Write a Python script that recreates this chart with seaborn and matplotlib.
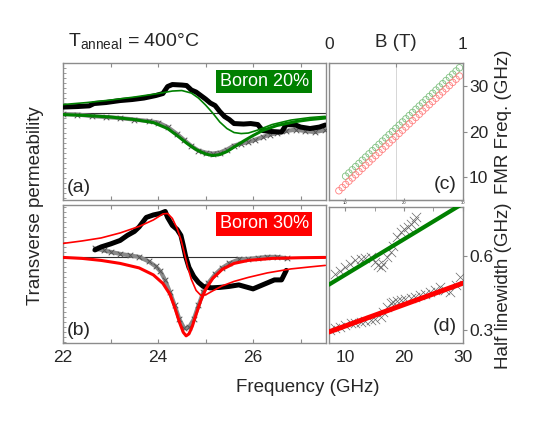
import matplotlib
matplotlib.use('Agg')
import matplotlib.pyplot as plt
import seaborn as sns

sns.set_style('white')
plt.rcParams['font.family'] = ['Liberation Sans', 'DejaVu Sans']
plt.rcParams['mathtext.fontset'] = 'custom'
plt.rcParams['mathtext.rm'] = 'Liberation Sans'

GREEN = '#008000'
RED = '#ff0000'
GREY = '#8a8a8a'
EDGE = '#8c8c8c'

# ---- panel (a): Boron 20 % permeability spectra (arb. units) ----
a_real_f = [22.00, 22.30, 22.55, 22.65, 22.90, 23.20, 23.45, 23.70, 23.95, 24.10, 24.20, 24.30,
            24.50, 24.60, 24.70, 24.80, 24.90, 25.00, 25.10, 25.20, 25.30, 25.40, 25.50, 25.60,
            25.80, 25.95, 26.10, 26.20, 26.40, 26.60, 26.70, 26.90, 27.00, 27.20, 27.40, 27.52]
a_real = [0.60, 0.65, 0.72, 0.95, 1.05, 1.25, 1.35, 1.50, 1.75, 1.95, 2.65, 2.85,
          2.80, 2.75, 2.30, 2.10, 1.75, 1.40, 1.00, 0.75, 0.15, -0.35, -0.65, -1.05,
          -1.10, -1.05, -1.15, -1.75, -1.85, -1.90, -1.15, -1.20, -1.40, -1.55, -1.40, -1.20]
a_imag_f = [22.0, 22.3, 22.6, 22.9, 23.2, 23.5, 23.8, 24.0, 24.2, 24.4, 24.55, 24.7, 24.85, 25.0,
            25.15, 25.3, 25.45, 25.6, 25.75, 25.9, 26.05, 26.2, 26.35, 26.5, 26.7, 26.9, 27.1,
            27.3, 27.52]
a_imag = [-0.10, -0.15, -0.30, -0.40, -0.50, -0.65, -0.80, -0.95, -1.40, -2.10, -2.70, -3.30,
          -3.75, -3.95, -4.05, -3.95, -3.65, -3.25, -3.05, -2.90, -2.65, -2.40, -2.15, -2.00,
          -1.80, -1.65, -1.80, -1.90, -1.70]
a_fit_re_f = [22.0, 22.5, 23.0, 23.5, 24.0, 24.3, 24.5, 24.7, 24.85, 25.0, 25.15, 25.3, 25.45,
              25.6, 25.75, 25.9, 26.1, 26.4, 26.8, 27.2, 27.52]
a_fit_re = [0.85, 1.05, 1.30, 1.60, 1.95, 2.20, 2.25, 2.00, 1.50, 0.80, 0.00, -0.90, -1.55,
            -1.95, -2.05, -2.00, -1.70, -1.15, -0.70, -0.45, -0.33]
a_fit_im_f = [22.0, 22.5, 23.0, 23.5, 23.9, 24.2, 24.4, 24.6, 24.8, 25.0, 25.15, 25.3, 25.45,
              25.6, 25.8, 26.0, 26.2, 26.5, 26.9, 27.2, 27.52]
a_fit_im = [-0.15, -0.25, -0.40, -0.65, -0.95, -1.55, -2.25, -3.00, -3.65, -4.10, -4.25, -4.15,
            -3.85, -3.40, -2.80, -2.25, -1.75, -1.25, -0.85, -0.65, -0.50]

# ---- panel (b): Boron 30 % ----
b_real_f = [22.67, 22.80, 23.00, 23.20, 23.35, 23.50, 23.60, 23.75, 23.90, 24.05, 24.15, 24.20,
            24.30, 24.40, 24.48, 24.53, 24.58, 24.65, 24.75, 24.85, 24.95, 25.10, 25.30, 25.50,
            25.70, 25.85, 26.00, 26.15, 26.30, 26.45, 26.60, 26.70]
b_real = [0.75, 1.05, 1.35, 1.70, 2.20, 2.60, 3.05, 4.00, 4.25, 4.40, 4.60, 4.00,
          3.20, 2.80, 2.20, 1.20, 0.10, -1.00, -1.90, -2.50, -2.90, -3.05, -3.00, -2.90,
          -2.75, -2.95, -3.15, -2.85, -2.55, -2.25, -2.25, -1.30]
b_imag_f = [22.67, 22.85, 23.00, 23.20, 23.40, 23.60, 23.80, 23.95, 24.05, 24.15, 24.25, 24.35,
            24.45, 24.55, 24.65, 24.75, 24.85, 24.95, 25.05, 25.20, 25.35, 25.50, 25.70, 25.90,
            26.10, 26.30, 26.50, 26.71]
b_imag = [0.90, 0.70, 0.55, 0.35, 0.20, 0.05, -0.40, -0.90, -1.40, -2.30, -3.50, -4.80,
          -6.20, -7.10, -7.00, -6.20, -4.80, -3.50, -2.60, -1.70, -1.05, -0.60, -0.20, -0.15,
          -0.05, 0.05, 0.05, -0.10]
b_fit_re_f = [22.0, 22.4, 22.8, 23.2, 23.6, 23.9, 24.1, 24.2, 24.3, 24.4, 24.48, 24.55, 24.62,
              24.7, 24.8, 24.9, 25.0, 25.15, 25.35, 25.6, 25.9, 26.3, 26.8, 27.2, 27.52]
b_fit_re = [1.40, 1.65, 1.95, 2.45, 3.10, 3.75, 4.35, 4.40, 3.90, 2.90, 1.80, 0.50, -0.90,
            -2.20, -3.30, -3.80, -3.75, -3.35, -2.85, -2.40, -2.00, -1.55, -1.15, -0.95, -0.80]
b_fit_im_f = [22.0, 22.4, 22.8, 23.2, 23.6, 23.9, 24.1, 24.25, 24.35, 24.45, 24.53, 24.59,
              24.65, 24.72, 24.8, 24.9, 25.0, 25.15, 25.35, 25.6, 25.9, 26.4, 27.0, 27.52]
b_fit_im = [0.00, -0.10, -0.30, -0.60, -1.05, -1.75, -2.60, -3.70, -5.00, -6.50, -7.50, -7.85,
            -7.65, -6.90, -5.70, -4.30, -3.20, -2.10, -1.20, -0.60, -0.30, -0.10, -0.03, 0.00]

# ---- panel (c): FMR frequency vs field ----
c_B_20 = [0.125, 0.150, 0.175, 0.200, 0.225, 0.250, 0.275, 0.300, 0.325, 0.350, 0.375, 0.400,
          0.425, 0.450, 0.475, 0.500, 0.525, 0.550, 0.575, 0.600, 0.625, 0.650, 0.675, 0.700,
          0.725, 0.750, 0.775, 0.800, 0.825, 0.850, 0.875, 0.900, 0.925, 0.950, 0.975]
c_f_20 = [10.2, 10.9, 11.6, 12.3, 13.0, 13.7, 14.4, 15.1, 15.8, 16.5, 17.2, 17.9, 18.6, 19.3,
          20.0, 20.7, 21.4, 22.1, 22.8, 23.5, 24.2, 24.9, 25.6, 26.3, 27.0, 27.7, 28.4, 29.1,
          29.8, 30.5, 31.2, 31.9, 32.6, 33.3, 34.0]
c_B_30 = [0.075, 0.100, 0.125, 0.150, 0.175, 0.200, 0.225, 0.250, 0.275, 0.300, 0.325, 0.350,
          0.375, 0.400, 0.425, 0.450, 0.475, 0.500, 0.525, 0.550, 0.575, 0.600, 0.625, 0.650,
          0.675, 0.700, 0.725, 0.750, 0.775, 0.800, 0.825, 0.850, 0.875, 0.900, 0.925, 0.950, 0.975]
c_f_30 = [7.0, 7.7, 8.4, 9.1, 9.8, 10.5, 11.2, 11.9, 12.6, 13.3, 14.0, 14.7, 15.4, 16.1, 16.8,
          17.5, 18.2, 18.9, 19.6, 20.3, 21.0, 21.7, 22.4, 23.1, 23.8, 24.5, 25.2, 25.9, 26.6,
          27.3, 28.0, 28.7, 29.4, 30.1, 30.8, 31.5, 32.2]

# ---- panel (d): half linewidth vs frequency ----
d_f_20 = [8.3, 9.15, 10.0, 10.85, 11.7, 12.6, 13.4, 14.3, 15.1, 15.6, 16.0, 16.5, 17.1, 17.7,
          18.2, 18.8, 19.4, 20.0, 20.6, 21.1, 21.7, 22.1]
d_w_20 = [0.526, 0.538, 0.556, 0.569, 0.583, 0.587, 0.592, 0.596, 0.578, 0.562, 0.556, 0.569,
          0.596, 0.616, 0.643, 0.677, 0.697, 0.710, 0.717, 0.730, 0.744, 0.757]
d_f_30 = [7.4, 8.3, 9.1, 10.0, 10.9, 11.7, 12.6, 13.4, 14.3, 15.1, 16.0, 16.5, 17.1, 17.7,
          18.2, 18.8, 19.4, 20.2, 21.1, 21.9, 22.8, 23.6, 24.5, 25.3, 26.2, 27.0, 27.9, 28.8, 29.6]
d_w_30 = [0.300, 0.307, 0.313, 0.320, 0.327, 0.330, 0.334, 0.336, 0.340, 0.344, 0.354, 0.374,
          0.394, 0.408, 0.414, 0.417, 0.421, 0.425, 0.428, 0.434, 0.441, 0.448, 0.455, 0.461,
          0.475, 0.461, 0.455, 0.481, 0.515]
d_fit_f = [7.2, 30.0]
d_fit_20 = [0.484, 0.813]
d_fit_30 = [0.292, 0.490]


def line(ax, x, y, color, lw, **kw):
    sns.lineplot(x=x, y=y, ax=ax, color=color, linewidth=lw, sort=False,
                 estimator=None, legend=False, **kw)


def crosses(ax, x, y, size, lw, color='#555555'):
    sns.scatterplot(x=x, y=y, ax=ax, marker='x', s=size, color=color, linewidth=lw,
                    legend=False, zorder=3)


def frame(ax):
    for s in ax.spines.values():
        s.set_color(EDGE)
        s.set_linewidth(1.0)


fig = plt.figure(figsize=(5.4, 4.23), dpi=100)
ax_a = fig.add_axes([0.117, 0.527, 0.487, 0.324])
ax_b = fig.add_axes([0.117, 0.189, 0.487, 0.326])
ax_c = fig.add_axes([0.609, 0.527, 0.248, 0.324])
ax_d = fig.add_axes([0.609, 0.189, 0.248, 0.322])

# left spectra panels
for ax, re_f, re, im_f, im, fre_f, fre, fim_f, fim, col, lab, tag, ylim in [
        (ax_a, a_real_f, a_real, a_imag_f, a_imag, a_fit_re_f, a_fit_re, a_fit_im_f, a_fit_im,
         GREEN, 'Boron 20%', '(a)', (-8.7, 5.0)),
        (ax_b, b_real_f, b_real, b_imag_f, b_imag, b_fit_re_f, b_fit_re, b_fit_im_f, b_fit_im,
         RED, 'Boron 30%', '(b)', (-8.57, 5.23))]:
    ax.axhline(0, color='#303030', lw=0.8, zorder=1)
    line(ax, im_f, im, GREY, 3.0, zorder=2)
    crosses(ax, im_f, im, 16, 0.7)
    line(ax, re_f, re, 'black', 3.6, zorder=4)
    line(ax, fre_f, fre, col, 1.2, zorder=5)
    line(ax, fim_f, fim, col, 2.2, zorder=6)
    ax.set_xlim(22, 27.54)
    ax.set_ylim(*ylim)
    ax.set_xticks([22, 23, 24, 25, 26, 27])
    ax.set_yticks([])
    ax.set_yticks([v * 0.5 for v in range(-17, 11)], minor=True)
    ax.tick_params(axis='x', direction='in', length=3, color=EDGE, top=True, bottom=True,
                   labelsize=12.5, pad=5)
    ax.tick_params(axis='y', which='minor', direction='in', length=2, color=EDGE, left=True)
    ax.set_xlabel('')
    ax.set_ylabel('')
    ax.text(0.764, 0.865, lab, transform=ax.transAxes, ha='center', va='center', color='white',
            fontsize=13, bbox=dict(boxstyle='square,pad=0.18', fc=col, ec='none'), zorder=7)
    ax.text(0.015, 0.03, tag, transform=ax.transAxes, ha='left', va='bottom', fontsize=14)
    frame(ax)

ax_a.set_xticklabels([])
ax_b.set_xticklabels(['22', '', '24', '', '26', ''])

# (c) FMR frequency vs B
ax_c.axvline(0.5, color='#d0d0d0', lw=0.6, zorder=0)
sns.scatterplot(x=c_B_20, y=c_f_20, ax=ax_c, marker='o', s=22, fc='none', ec='#7fc07f',
                linewidth=0.6, legend=False)
sns.scatterplot(x=c_B_30, y=c_f_30, ax=ax_c, marker='o', s=22, fc='none', ec='#ff8080',
                linewidth=0.6, legend=False)
ax_c.set_xlim(0, 1)
ax_c.set_ylim(4.95, 35.05)
ax_c.xaxis.tick_top()
ax_c.set_xticks([0, 0.5, 1])
ax_c.set_xticklabels(['0', '', '1'])
ax_c.yaxis.tick_right()
ax_c.set_yticks([10, 20, 30])
ax_c.tick_params(axis='x', direction='in', length=3, color=EDGE, labelsize=12.5, pad=8)
ax_c.tick_params(axis='y', direction='out', length=3, color=EDGE, labelsize=12.5, pad=1.5)
ax_c.set_xlabel('')
ax_c.set_ylabel('')
ax_c.text(0.5, 1.117, 'B (T)', transform=ax_c.transAxes, ha='center', va='baseline',
          fontsize=13.5)
sec = ax_c.secondary_xaxis('bottom', functions=(lambda b: 7.2 + 22.8 * b,
                                                lambda f: (f - 7.2) / 22.8))
sec.set_xticks([10, 20, 30])
sec.tick_params(labelsize=3, length=1.5, direction='in', color=EDGE, pad=0.5)
for s in sec.spines.values():
    s.set_color(EDGE)
ax_c.text(0.955, 0.05, '(c)', transform=ax_c.transAxes, ha='right', va='bottom', fontsize=14)
frame(ax_c)

# (d) half linewidth vs frequency
crosses(ax_d, d_f_20, d_w_20, 45, 0.5, '#666666')
crosses(ax_d, d_f_30, d_w_30, 45, 0.5, '#666666')
line(ax_d, d_fit_f, d_fit_20, GREEN, 3.0, zorder=4)
line(ax_d, d_fit_f, d_fit_30, RED, 3.6, zorder=4)
ax_d.set_xlim(7.2, 30)
ax_d.set_ylim(0.247, 0.8)
ax_d.set_xticks([10, 20, 30])
ax_d.set_xticks([15, 25], minor=True)
ax_d.yaxis.tick_right()
ax_d.set_yticks([0.3, 0.6])
ax_d.set_yticklabels(['0.3', '0.6'])
ax_d.tick_params(axis='x', which='both', direction='in', length=3, color=EDGE, top=True,
                 labelsize=12.5, pad=5)
ax_d.tick_params(axis='y', direction='out', length=3, color=EDGE, labelsize=12.5, pad=1.5)
ax_d.set_xlabel('')
ax_d.set_ylabel('')
ax_d.text(0.955, 0.06, '(d)', transform=ax_d.transAxes, ha='right', va='bottom', fontsize=14)
frame(ax_d)

fig.text(0.126, 0.889, r'T$_{\mathrm{anneal}}$ = 400°C', fontsize=14, ha='left', va='baseline')
fig.text(0.569, 0.083, 'Frequency (GHz)', fontsize=13.5, ha='center', va='center')
fig.text(0.065, 0.513, 'Transverse permeability', fontsize=13.5, rotation=90,
         ha='center', va='center')
fig.text(503 / 540, 1 - 122 / 423, 'FMR Freq. (GHz)', fontsize=13.5, rotation=90,
         ha='center', va='center')
fig.text(503 / 540, 1 - 286 / 423, 'Half linewidth (GHz)', fontsize=13.5, rotation=90,
         ha='center', va='center')

fig.savefig('out.png', dpi=100)
